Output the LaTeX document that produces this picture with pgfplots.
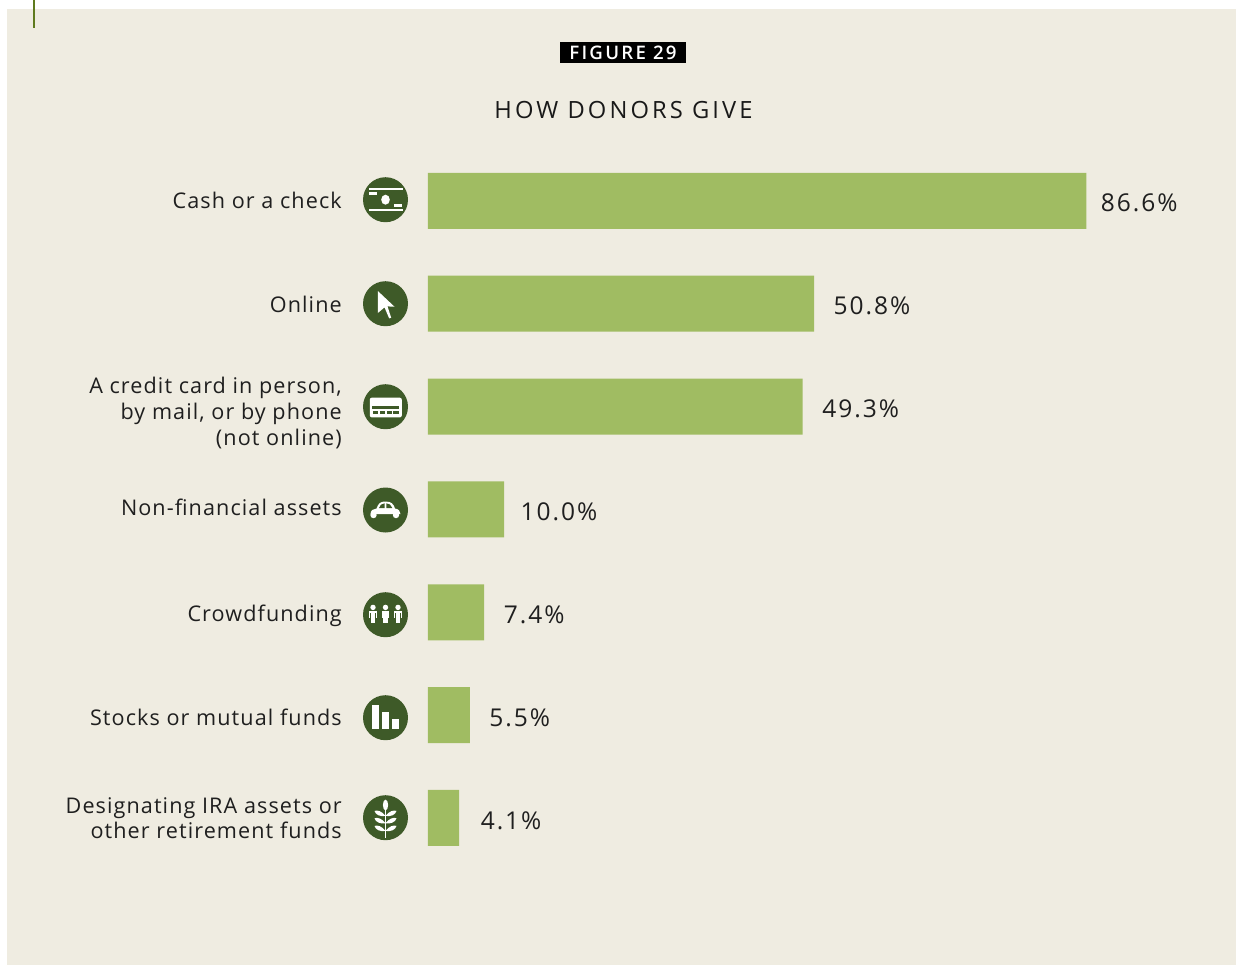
\documentclass[border=0pt]{standalone}
\usepackage{fontspec}
\setmainfont{Open Sans}[LetterSpace=5]
\newfontfamily\valfont{Open Sans}[LetterSpace=8]
\newfontfamily\titlefont{Open Sans}[LetterSpace=13]
\newfontfamily\figfont{Open Sans Semibold}[LetterSpace=12]
\usepackage{pgfplots}
\pgfplotsset{compat=1.18}
\definecolor{panel}{HTML}{EFECE1}
\definecolor{barc}{HTML}{A0BC62}
\definecolor{iconc}{HTML}{3E5A28}
\definecolor{tickc}{HTML}{5F7A1E}
\newcommand\lab[2]{\raisebox{#1}[0pt][0pt]{\begin{tabular}{@{}r@{}}#2\end{tabular}}}
\begin{document}
\begin{tikzpicture}[x=0.75pt,y=-0.75pt]
\useasboundingbox (0,0) rectangle (1236,965);
\fill[white] (0,0) rectangle (1236,965);
\fill[panel] (7,9) rectangle (1236,965);
\fill[tickc] (33.3,0) rectangle (34.8,27.5);
% heading
\fill[black] (560,41.5) rectangle (686,63);
\node[text=white,font=\figfont\fontsize{14}{16}\selectfont,inner sep=0pt,anchor=center] at (623,53.1) {FIGURE 29};
\node[text=black!90,font=\titlefont\fontsize{17.8}{21}\selectfont,inner sep=0pt,anchor=center] at (623.5,110) {HOW DONORS GIVE};
% icons
\foreach \yy in {199.7,303.7,406.7,510,614.7,717.7,817.7}{\fill[iconc] (385.5,\yy) circle (22.5);}
\begin{scope}[shift={(385.5,199.7)},white]
\fill (-16.5,-11.5) rectangle (17,-9.7);
\fill (-16.5,9.7) rectangle (17,11.5);
\fill (-16.5,-7.7) rectangle (-8.3,-4.7);
\fill (8.7,4.3) rectangle (16.7,7.3);
\fill (0,0) ellipse (4.3 and 5);
\end{scope}
\begin{scope}[shift={(385.5,303.7)},white]
\fill (-7.7,-12.7) -- (9,3) -- (2,2.7) -- (5.7,14) -- (3.7,14.7) -- (-1,3.7) -- (-7.7,9.3) -- cycle;
\end{scope}
\begin{scope}[shift={(385.5,406.7)}]
\fill[white,rounded corners=1.5pt] (-15.7,-9) rectangle (16.3,10.7);
\fill[iconc] (-13.3,-0.7) rectangle (13,2.7);
\fill[iconc] (-12.3,4.3) rectangle (-7.3,7.3);
\fill[iconc] (-5.3,4.3) rectangle (-0.3,7.3);
\fill[iconc] (1.7,4.3) rectangle (6.7,7.3);
\fill[iconc] (7.7,4.3) rectangle (13,7.3);
\end{scope}
\begin{scope}[shift={(385.5,510)}]
\fill[white] (-15,4) .. controls (-15,0) and (-12,-1) .. (-9,-1.5) .. controls (-7,-7) and (-5,-8.5) .. (0,-8.5) .. controls (6,-8.5) and (8,-6) .. (9.5,-1.5) .. controls (13,-1) and (15,1) .. (15,4) -- cycle;
\fill[white] (-12,5) circle (3.2) (10.5,5) circle (3.2);
\fill[iconc] (-6.5,-2) .. controls (-5.5,-5) and (-4,-6.5) .. (-0.8,-6.7) -- (-0.8,-2) -- cycle;
\fill[iconc] (0.8,-2) -- (0.8,-6.7) .. controls (4,-6.7) and (5.5,-5) .. (6.8,-2) -- cycle;
\end{scope}
\foreach \px in {-12.5,0,12.5}{
\begin{scope}[shift={(385.5+\px,614.7)},white]
\fill (0,-7.3) circle (2.7);
\fill (-3.8,-4.2) rectangle (3.8,-2);
\fill (-3.8,-4.2) rectangle (-2.9,3);
\fill (2.9,-4.2) rectangle (3.8,3);
\fill (-2.4,-4.2) rectangle (2.4,8.2);
\end{scope}}
\begin{scope}[shift={(385.5,717.7)},white]
\fill (-13.3,-12.7) rectangle (-6.3,11.3);
\fill (-3.3,-5.7) rectangle (3.7,11.3);
\fill (6.7,1.3) rectangle (13.7,11.3);
\end{scope}
\begin{scope}[shift={(385.5,817.7)},white]
\fill (-0.9,-12) rectangle (0.9,20);
\fill (0,-12.7) ellipse (2.6 and 5.4);
\foreach \ly in {-4.3,3,10.7}{
\fill (0,\ly+2.5) .. controls (-4,\ly-2.5) and (-8,\ly-3.5) .. (-11,\ly-2.5) .. controls (-10,\ly+1.5) and (-5,\ly+3.5) .. (0,\ly+2.5) -- cycle;
\fill (0,\ly+2.5) .. controls (4,\ly-2.5) and (8,\ly-3.5) .. (11,\ly-2.5) .. controls (10,\ly+1.5) and (5,\ly+3.5) .. (0,\ly+2.5) -- cycle;
}
\end{scope}
\coordinate (A) at (428,869.4);
% chart
\begin{axis}[
  at={(A)},anchor=south west,
  scale only axis,width=606pt,height=540pt,
  xmin=0,xmax=106.3,ymin=-0.5,ymax=6.5,y dir=reverse,
  axis line style={draw=none},
  major tick length=0pt,
  xtick=\empty,ytick={0,1,2,3,4,5,6},
  yticklabels={{\lab{-6.4pt}{Cash or a check}},{\lab{-7.1pt}{Online}},{\lab{-10.2pt}{A credit card in person,\\by mail, or by phone\\(not online)}},{\lab{-5.25pt}{Non-financial assets}},{\lab{-7.5pt}{Crowdfunding}},{\lab{-8.25pt}{Stocks or mutual funds}},{\lab{-6.4pt}{Designating IRA assets or\\other retirement funds}}},
  y tick label style={anchor=east,inner sep=0pt,xshift=-64.5pt,
    font=\fontsize{16.2}{19.4}\selectfont,text=black!88},
  xbar,bar width=42pt,clip=false,
  nodes near coords,
  nodes near coords align={horizontal},
  every node near coord/.append style={font=\valfont\fontsize{18.4}{22}\selectfont,text=black!88,inner sep=0pt,anchor=west,xshift=14.5pt,yshift=-1.8pt},
  point meta=explicit symbolic,
]
\addplot[draw=none,fill=barc] coordinates {
 (86.6,0) [\kern-3.75pt 86.6\%]
 (50.8,1) [50.8\%]
 (49.3,2) [49.3\%]
 (10.0,3) [\kern-2.25pt 10.0\%]
 (7.4,4) [7.4\%]
 (5.5,5) [5.5\%]
 (4.1,6) [\kern1.5pt 4.1\%]
};
\end{axis}
\end{tikzpicture}
\end{document}
